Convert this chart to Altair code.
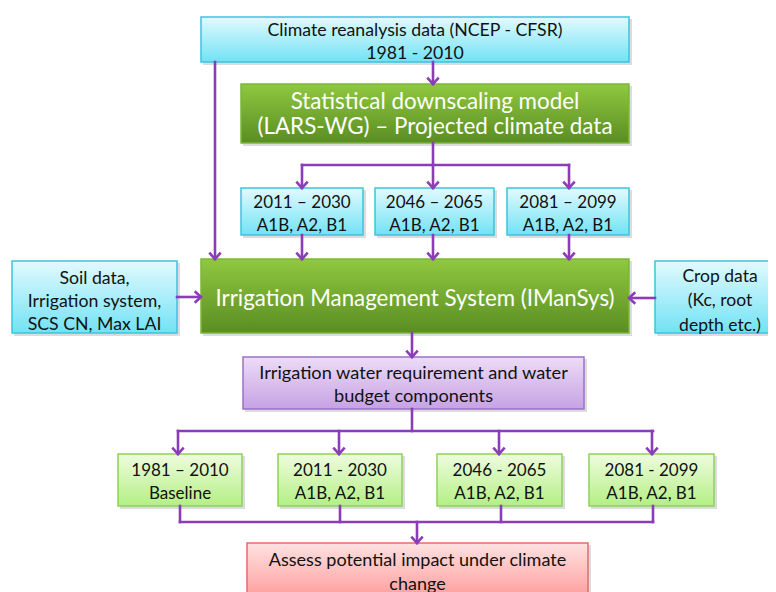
import altair as alt
import pandas as pd

# ---------------- content ----------------
box_text = [
    "Climate reanalysis data (NCEP - CFSR)\n1981 - 2010",
    "Statistical downscaling model\n(LARS-WG) – Projected climate data",
    "2011 – 2030\nA1B, A2, B1",
    "2046 – 2065\nA1B, A2, B1",
    "2081 – 2099\nA1B, A2, B1",
    "Soil data,\nIrrigation system,\nSCS CN, Max LAI",
    "Irrigation Management System (IManSys)",
    "Crop data\n(Kc, root\ndepth etc.)",
    "Irrigation water requirement and water\nbudget components",
    "1981 – 2010\nBaseline",
    "2011 - 2030\nA1B, A2, B1",
    "2046 - 2065\nA1B, A2, B1",
    "2081 - 2099\nA1B, A2, B1",
    "Assess potential impact under climate\nchange",
]
box_kind = ["input", "model", "input", "input", "input", "input", "model", "input",
            "output", "period", "period", "period", "period", "impact"]

# ---------------- layout (image pixel frame) ----------------
box_left = [201, 241, 241, 375, 507, 12, 201, 655, 243, 118, 278, 437, 589, 247]
box_right = [629, 629, 363, 494, 629, 177, 629, 785, 584, 242, 402, 562, 714, 588]
box_top = [17, 84, 188, 188, 188, 261, 259, 261, 357, 454, 454, 454, 454, 543]
box_bottom = [62, 143, 235, 235, 235, 333, 333, 333, 409, 506, 506, 506, 506, 600]
text_cy = [42, 114, 214.5, 214.5, 214.5, 301.5, 299, 301, 385, 482, 482, 482, 482, 572.5]
box_font = [17.7, 22.4, 17, 17, 17, 17.7, 22.3, 17.5, 18.2, 17, 17, 17, 17, 18]
box_lh = [23, 25, 23, 23, 23, 23, 25, 24.5, 23, 23, 23, 23, 23, 24]

seg_x1 = [433, 215, 433, 302, 302, 433, 569, 302, 433, 569, 177, 655, 412, 412, 178,
          178, 339, 499, 652, 180, 340, 501, 653, 180, 417]
seg_y1 = [62, 62, 143, 165, 165, 165, 165, 235, 235, 235, 297, 298, 333, 409, 431,
          431, 431, 431, 431, 506, 506, 506, 506, 522, 522]
seg_x2 = [433, 215, 433, 569, 302, 433, 569, 302, 433, 569, 200, 630, 412, 412, 653,
          178, 339, 499, 652, 180, 340, 501, 653, 653, 417]
seg_y2 = [84, 259, 165, 165, 188, 188, 188, 259, 259, 259, 297, 298, 357, 431, 431,
          454, 454, 454, 454, 522, 522, 522, 522, 522, 543]

head_x = [433, 215, 302, 433, 569, 302, 433, 569, 201, 629, 412, 178, 339, 499, 652, 417]
head_y = [84, 259, 188, 188, 188, 259, 259, 259, 297, 298, 357, 454, 454, 454, 454, 543]
head_angle = [0, 0, 0, 0, 0, 0, 0, 0, 270, 90, 0, 0, 0, 0, 0, 0]

styles = {
    "input": ("#e2fafe", "#72e2f5", "#3cc4dc", "#111111"),
    "model": ("#8fc840", "#5a8d22", "#7cb63a", "#ffffff"),
    "output": ("#eddcf7", "#c6a2e4", "#9c72c6", "#111111"),
    "period": ("#eefcdf", "#b4ef84", "#8fd15a", "#111111"),
    "impact": ("#ffe2e2", "#ff9a9a", "#e46c6c", "#111111"),
}

boxes = pd.DataFrame({
    "label": box_text, "kind": box_kind,
    "x0": box_left, "x1": box_right, "y0": box_top, "y1": box_bottom,
    "fs": box_font, "lh": box_lh, "cy": text_cy,
})
boxes["xc"] = (boxes.x0 + boxes.x1) / 2
nlines = boxes.label.str.count("\n")
boxes["ty"] = boxes.cy - nlines * boxes.lh / 2
boxes["tc"] = [styles[k][3] for k in box_kind]

segs = pd.DataFrame({"x1": seg_x1, "y1": seg_y1, "x2": seg_x2, "y2": seg_y2})
heads = pd.DataFrame({"x": head_x, "y": head_y, "a": head_angle})

W, H = 760, 584
xs = alt.Scale(domain=[8, 8 + W], nice=False, zero=False)
ys = alt.Scale(domain=[8, 8 + H], nice=False, zero=False, reverse=True)
ARROW = "#8b3db9"

base = alt.Chart(boxes)

shadow = base.mark_rect(color="#8a8a8a", opacity=0.3, clip=True).transform_calculate(
    sx0="datum.x0 + 2", sx1="datum.x1 + 3", sy0="datum.y0 + 2", sy1="datum.y1 + 3"
).encode(
    x=alt.X("sx0:Q", scale=xs, axis=None), x2="sx1:Q",
    y=alt.Y("sy0:Q", scale=ys, axis=None), y2="sy1:Q",
)

rect_layers = []
for kind, (top, bot, stroke, _) in styles.items():
    grad = alt.Gradient(
        gradient="linear",
        stops=[alt.GradientStop(color=top, offset=0), alt.GradientStop(color=bot, offset=1)],
        x1=0, x2=0, y1=0, y2=1,
    )
    rect_layers.append(
        base.transform_filter(alt.datum.kind == kind).mark_rect(
            fill=grad, stroke=stroke, strokeWidth=1.5, clip=True
        ).encode(
            x=alt.X("x0:Q", scale=xs, axis=None), x2="x1:Q",
            y=alt.Y("y0:Q", scale=ys, axis=None), y2="y1:Q",
        )
    )

lines = alt.Chart(segs).mark_rule(color=ARROW, strokeWidth=2.6, strokeCap="square").encode(
    x=alt.X("x1:Q", scale=xs, axis=None), x2="x2:Q",
    y=alt.Y("y1:Q", scale=ys, axis=None), y2="y2:Q",
)

arrowheads = alt.Chart(heads).mark_point(
    shape="M-1,-1.1L0,0L1,-1.1", filled=False, color=ARROW, strokeWidth=2.6,
    size=130, opacity=1, strokeJoin="miter",
).encode(
    x=alt.X("x:Q", scale=xs, axis=None),
    y=alt.Y("y:Q", scale=ys, axis=None),
    angle=alt.Angle("a:Q", scale=None),
)

text_layers = []
for lh in sorted(set(box_lh)):
    text_layers.append(
        base.transform_filter(alt.datum.lh == lh).mark_text(
            font="Lato", lineBreak="\n", lineHeight=lh, align="center",
            baseline="middle", clip=True,
        ).encode(
            x=alt.X("xc:Q", scale=xs, axis=None),
            y=alt.Y("ty:Q", scale=ys, axis=None),
            text="label:N",
            size=alt.Size("fs:Q", scale=None),
            color=alt.Color("tc:N", scale=None),
        )
    )

chart = alt.layer(shadow, *rect_layers, lines, arrowheads, *text_layers).properties(
    width=W, height=H, padding=0, autosize="none", background="white"
).configure_view(stroke=None)

chart.save("out.html", embed_options={"renderer": "svg", "actions": False})
